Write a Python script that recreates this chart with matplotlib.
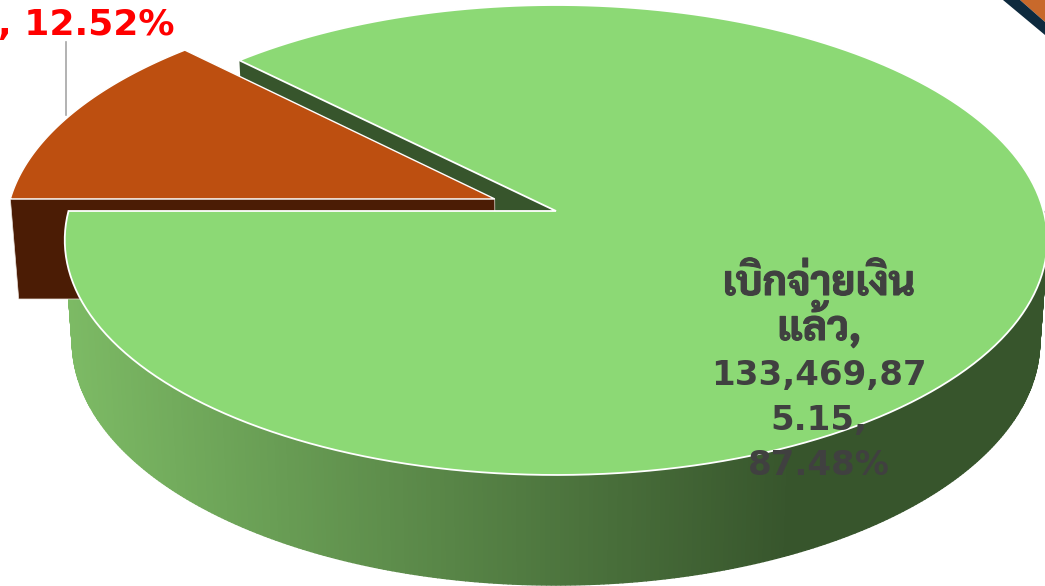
import matplotlib
matplotlib.use("Agg")
import matplotlib.font_manager as fm
import matplotlib.patheffects as pe
import matplotlib.pyplot as plt
import numpy as np

# data
shares = [87.48, 12.52]
paid_thai = ["เบิกจ่ายเงิน", "แล้ว,"]
paid_numbers = ["133,469,87", "5.15,", "87.48%"]
other_label = ", 12.52%"

GREEN = "#8CD975"
GREEN_DARK = "#37552C"
GREEN_SIDE_LEFT = "#7DBB65"
ORANGE = "#BD4F10"
ORANGE_DARK = "#4B1C05"

# pie geometry in pixels, perspective on the flat disc
CX = 556
TOP = dict(cy=211, a=487.5, b=231.4)
BOTTOM = dict(cy=311.5, a=480, b=239.8)
TILT = 0.1234
EXPLODE = 0.137
START = 180.0

installed = {f.name for f in fm.fontManager.ttflist}
thai = next((n for n in ["Sarabun", "Krub", "K2D", "Niramit", "Noto Sans Thai"]
             if n in installed), "DejaVu Sans")
families = ["DejaVu Sans", thai]


def project(u, v, plane):
    w = 1 + TILT * v
    return CX + plane["a"] * u / w, plane["cy"] - plane["b"] * v / w


def arc(a0, a1, n=200):
    t = np.radians(np.linspace(a0, a1, n))
    return np.cos(t), np.sin(t)


def wedge(a0, a1, plane, offset=(0, 0)):
    u, v = arc(a0, a1)
    u = np.r_[0, u] + offset[0]
    v = np.r_[0, v] + offset[1]
    return project(u, v, plane)


def hex_mix(c0, c1, f):
    a = np.array(matplotlib.colors.to_rgb(c0))
    b = np.array(matplotlib.colors.to_rgb(c1))
    return a + (b - a) * f


fig = plt.figure(figsize=(10.45, 5.86), dpi=100)
ax = fig.add_axes([0, 0, 1, 1])
ax.set_xlim(0, 1045)
ax.set_ylim(586, 0)
ax.axis("off")

sweep = [s / sum(shares) * 360 for s in shares]
g0, g1 = START, START + sweep[0]
o0, o1 = g1, g1 + sweep[1]
mid = np.radians((o0 + o1) / 2)
off = (EXPLODE * np.cos(mid), EXPLODE * np.sin(mid))

# corner decoration
ax.fill([1020, 1045, 1045], [0, 0, 22], color="#C8692B", lw=0)
ax.fill([1003, 1020, 1045, 1045], [0, 0, 22, 35], color="#0E2A3E", lw=0)

# leader line
ax.plot([65.5, 65.5], [42, 115], color="#A6A6A6", lw=1.2)

# curved side of the big slice
edges = np.linspace(g0, 360, 361)
for a, b in zip(edges[:-1], edges[1:]):
    ua, va = arc(a, b, 2)
    xt, yt = project(ua, va, TOP)
    xb, yb = project(ua, va, BOTTOM)
    f = np.clip((xb.mean() - 70) / (790 - 70), 0, 1)
    c = hex_mix(GREEN_SIDE_LEFT, GREEN_DARK, f)
    ax.fill([xt[0], xt[1], xb[1], xb[0]], [yt[0], yt[1], yb[1], yb[0]],
            facecolor=c, edgecolor=c, lw=1.0)

# cut face of the big slice showing in the gap
ue, ve = np.cos(np.radians(g1)), np.sin(np.radians(g1))
x1, y1 = project(np.array([0, ue]), np.array([0, ve]), TOP)
x2, y2 = project(np.array([ue, 0]), np.array([ve, 0]), BOTTOM)
ax.fill(np.r_[x1, x2], np.r_[y1, y2], color=GREEN_DARK, lw=0)

# exploded slice: front face then top
px, py = off
xa, ya = project(np.array([px, px - 1]), np.array([py, py]), TOP)
xc, yc = project(np.array([px - 1, px]), np.array([py, py]), BOTTOM)
ax.fill(np.r_[xa, xc], np.r_[ya, yc], facecolor=ORANGE_DARK, edgecolor="#E8E0DA", lw=0.5)
xo, yo = wedge(o0, o1, TOP, off)
ax.fill(xo, yo, facecolor=ORANGE, edgecolor="white", lw=1.0)

# top of the big slice
xg, yg = wedge(g0, g1, TOP)
ax.fill(xg, yg, facecolor=GREEN, edgecolor="white", lw=1.3)

# label, one baseline per line because the Thai lines need their own size
baseline = 295
for line in paid_thai:
    t = ax.text(819, baseline, line, ha="center", va="baseline", color="#404040",
                fontsize=29.5, fontweight="bold", family=[thai, "DejaVu Sans"])
    t.set_path_effects([pe.withStroke(linewidth=0.8, foreground="#404040")])
    baseline += 45
for line in paid_numbers:
    ax.text(819, baseline, line, ha="center", va="baseline", color="#404040",
            fontsize=24.5, fontweight="bold", family=families)
    baseline += 45

ax.text(174, 35, other_label, ha="right", va="baseline", color="#FF0000",
        fontsize=26, fontweight="bold", family=families)

fig.savefig("out.png", dpi=100)
